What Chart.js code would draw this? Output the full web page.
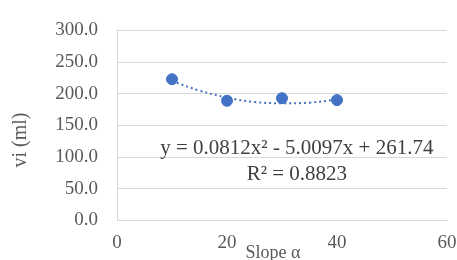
<!DOCTYPE html>
<html>
<head>
<meta charset="utf-8">
<script src="https://cdn.jsdelivr.net/npm/chart.js@4"></script>
<style>
  html, body { margin: 0; padding: 0; background: #fff; overflow: hidden; }
  #wrap { width: 470px; height: 260px; }
</style>
</head>
<body>
<div id="wrap"><canvas id="grafico" width="470" height="260"></canvas></div>
<script>
// valores
const slope = [10, 20, 30, 40];
const vi = [223, 189, 193, 190];
// linha de tendência (polinomial)
const trendX = [10, 15, 20, 25, 30, 35, 40];
const trendY = [220, 205, 194, 187, 185, 186, 191];
const yTicks = [0, 50, 100, 150, 200, 250, 300];
const xTicks = [0, 20, 40, 60];

const azul = '#4472C4';
const cinza = '#595959';
const fonte = 'Liberation Serif';

// textos extras: equação e títulos dos eixos
const textos = {
  id: 'textos',
  afterDraw(chart) {
    const ctx = chart.ctx;
    const x = chart.scales.x, y = chart.scales.y;
    ctx.save();
    ctx.fillStyle = '#404040';
    ctx.textAlign = 'center';
    ctx.textBaseline = 'middle';
    ctx.font = '21px "' + fonte + '"';
    ctx.fillText('y = 0.0812x² - 5.0097x + 261.74', x.getPixelForValue(32.7), y.getPixelForValue(113));
    ctx.fillText('R² = 0.8823', x.getPixelForValue(32.7), y.getPixelForValue(73));
    ctx.fillStyle = cinza;
    ctx.font = '18px "' + fonte + '"';
    ctx.fillText('Slope α', 273, 253);
    ctx.font = '20px "' + fonte + '"';
    ctx.translate(21, 140);
    ctx.rotate(-Math.PI / 2);
    ctx.fillText('vi (ml)', 0, 0);
    ctx.restore();
  }
};

const ctx = document.getElementById('grafico').getContext('2d');
new Chart(ctx, {
  type: 'scatter',
  data: {
    datasets: [{
      label: 'vi',
      data: slope.map((s, i) => ({ x: s, y: vi[i] })),
      backgroundColor: azul,
      borderColor: azul,
      pointRadius: 5.5,
      order: 1
    }, {
      label: 'tendência',
      data: trendX.map((s, i) => ({ x: s, y: trendY[i] })),
      showLine: true,
      borderColor: azul,
      borderWidth: 2,
      borderDash: [2, 3],
      tension: 0.4,
      pointRadius: 0,
      order: 2
    }]
  },
  plugins: [textos],
  options: {
    responsive: false,
    animation: false,
    layout: { padding: { left: 0, right: 23, top: 29, bottom: 0 } },
    plugins: { legend: { display: false }, tooltip: { enabled: false } },
    scales: {
      x: {
        type: 'linear',
        min: 0, max: 60,
        afterBuildTicks: s => { s.ticks = xTicks.map(v => ({ value: v })); },
        grid: { display: false, drawTicks: false },
        border: { display: true, color: '#d9d9d9' },
        ticks: { color: cinza, font: { family: fonte, size: 19 }, padding: 11 },
        afterFit: s => { s.height = 39.5; }
      },
      y: {
        min: 0, max: 300,
        afterBuildTicks: s => { s.ticks = yTicks.map(v => ({ value: v })); },
        grid: { color: '#d9d9d9', drawTicks: false },
        border: { display: true, color: '#d9d9d9' },
        ticks: {
          color: cinza, font: { family: fonte, size: 19 }, padding: 19,
          callback: v => v.toFixed(1)
        },
        afterFit: s => { s.width = 117; }
      }
    }
  }
});
</script>
</body>
</html>
